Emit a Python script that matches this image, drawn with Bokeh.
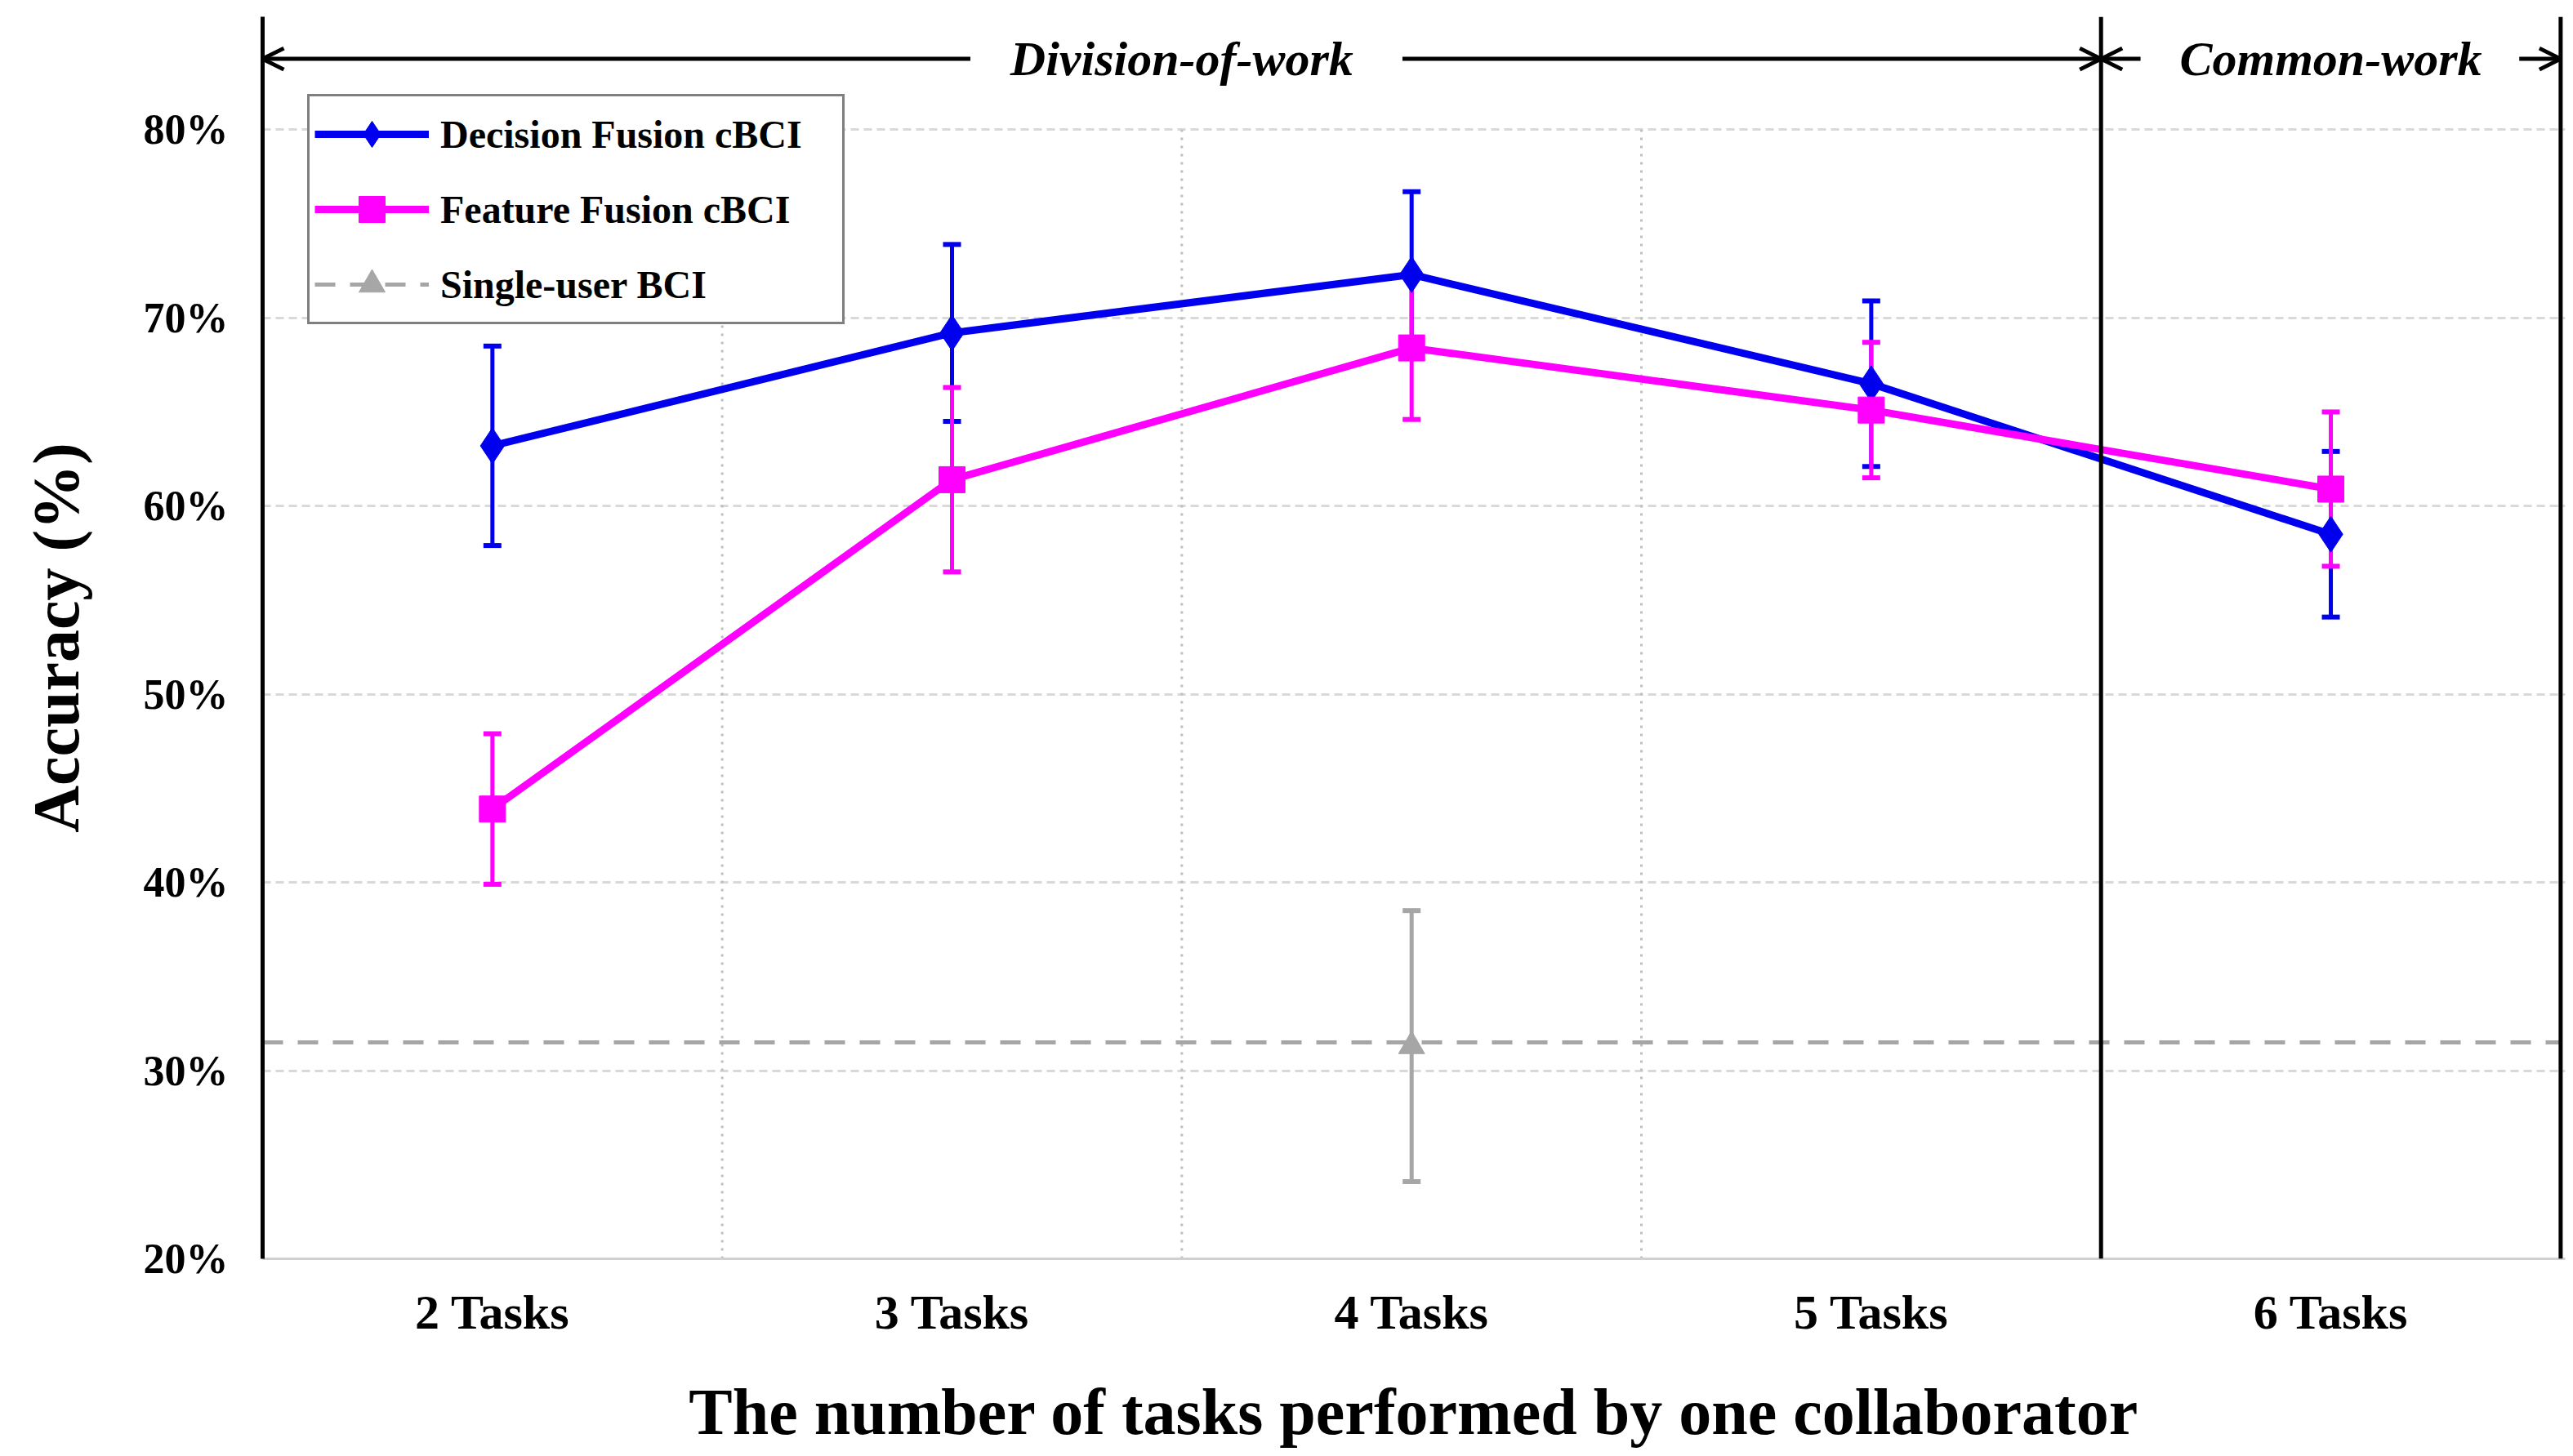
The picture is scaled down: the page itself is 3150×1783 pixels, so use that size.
from bokeh.plotting import figure
from bokeh.models import (ColumnDataSource, Whisker, TeeHead, Span, Arrow, OpenHead,
                          Label, FixedTicker, PrintfTickFormatter)
from bokeh.embed import file_html
from bokeh.resources import INLINE

# ---------------- data ----------------
tasks = [2, 3, 4, 5, 6]
task_labels = ["2 Tasks", "3 Tasks", "4 Tasks", "5 Tasks", "6 Tasks"]

decision_mean = [63.2, 69.2, 72.3, 66.5, 58.5]
decision_err = [5.3, 4.7, 4.4, 4.4, 4.4]

feature_mean = [43.9, 61.4, 68.4, 65.1, 60.9]
feature_err = [4.0, 4.9, 3.8, 3.6, 4.1]

single_task = [4]
single_mean = [31.3]
single_err = [7.2]
single_level = 31.5

y_ticks = [20, 30, 40, 50, 60, 70, 80]
x_lo, x_hi = 1.5, 6.5
split_x = 5.5
division_mid = 3.5
common_mid = 6.0

# ---------------- styles ----------------
BLUE = "#0000EE"
MAGENTA = "#FF00FF"
GRAY = "#A6A6A6"
FONT = "Liberation Serif"

FIG_W = 3142
FIG_H = 1775
FRAME_LEFT = 321
FRAME_TOP = 20
FRAME_BOTTOM = 1543  # from top of figure

p = figure(width=FIG_W, height=FIG_H, x_range=(x_lo, x_hi + 0.01), y_range=(20, 86),
           output_backend="svg", toolbar_location=None,
           min_border_left=FRAME_LEFT, min_border_right=2, min_border_top=FRAME_TOP,
           min_border_bottom=FIG_H - FRAME_BOTTOM,
           background_fill_color="white", border_fill_color="white")
p.outline_line_color = None

# axes
p.xaxis.ticker = FixedTicker(ticks=tasks)
p.xaxis.major_label_overrides = {t: l for t, l in zip(tasks, task_labels)}
p.xaxis.major_label_text_font = FONT
p.xaxis.major_label_text_font_style = "bold"
p.xaxis.major_label_text_font_size = "60px"
p.xaxis.major_label_text_color = "black"
p.xaxis.major_label_standoff = 26
p.xaxis.axis_line_color = "#D0D0D0"
p.xaxis.axis_line_width = 3
p.xaxis.major_tick_line_color = None
p.xaxis.minor_tick_line_color = None
p.xaxis.axis_label = "The number of tasks performed by one collaborator"
p.xaxis.axis_label_text_font = FONT
p.xaxis.axis_label_text_font_style = "bold"
p.xaxis.axis_label_text_font_size = "80px"
p.xaxis.axis_label_text_color = "black"
p.xaxis.axis_label_standoff = 42

p.yaxis.ticker = FixedTicker(ticks=y_ticks)
p.yaxis.formatter = PrintfTickFormatter(format="%d%%")
p.yaxis.major_label_text_font = FONT
p.yaxis.major_label_text_font_style = "bold"
p.yaxis.major_label_text_font_size = "52px"
p.yaxis.major_label_text_color = "black"
p.yaxis.major_label_standoff = 36
p.yaxis.axis_line_color = "black"
p.yaxis.axis_line_width = 5
p.yaxis.major_tick_line_color = None
p.yaxis.minor_tick_line_color = None
p.yaxis.axis_label = "Accuracy (%)"
p.yaxis.axis_label_text_font = FONT
p.yaxis.axis_label_text_font_style = "bold"
p.yaxis.axis_label_text_font_size = "80px"
p.yaxis.axis_label_text_color = "black"
p.yaxis.axis_label_standoff = 60

# grids
p.xgrid.visible = False
p.ygrid.ticker = FixedTicker(ticks=y_ticks[1:])
p.ygrid.grid_line_color = "#D9D9D9"
p.ygrid.grid_line_width = 3
p.ygrid.grid_line_dash = "10 6"

grid_x = [t + 0.5 for t in tasks[:3]]
p.segment(x0=grid_x, y0=[min(y_ticks)] * len(grid_x), x1=grid_x, y1=[max(y_ticks)] * len(grid_x),
          line_color="#BFBFBF", line_width=3, line_dash="3 7")

# vertical black separators
p.add_layout(Span(location=split_x, dimension="height", line_color="black", line_width=5))
p.add_layout(Span(location=x_hi, dimension="height", line_color="black", line_width=5))

# ---------------- series ----------------
def add_err(xs, means, errs, color, lw=5):
    src = ColumnDataSource(dict(x=xs, upper=[m + e for m, e in zip(means, errs)],
                                lower=[m - e for m, e in zip(means, errs)]))
    w = Whisker(base="x", upper="upper", lower="lower", source=src,
                line_color=color, line_width=lw,
                upper_head=TeeHead(size=22, line_color=color, line_width=6),
                lower_head=TeeHead(size=22, line_color=color, line_width=6))
    p.add_layout(w)

# single-user
p.line([x_lo, x_hi], [single_level, single_level], line_color=GRAY, line_width=5,
       line_dash="25 18", legend_label="Single-user BCI")
add_err(single_task, single_mean, single_err, GRAY)
p.scatter(single_task, single_mean, marker="triangle", size=32, color=GRAY,
          legend_label="Single-user BCI")

# decision fusion
add_err(tasks, decision_mean, decision_err, BLUE)
p.line(tasks, decision_mean, line_color=BLUE, line_width=9, legend_label="Decision Fusion cBCI")
p.scatter(tasks, decision_mean, marker="diamond", size=44, color=BLUE,
          legend_label="Decision Fusion cBCI")

# feature fusion
add_err(tasks, feature_mean, feature_err, MAGENTA)
p.line(tasks, feature_mean, line_color=MAGENTA, line_width=9, legend_label="Feature Fusion cBCI")
p.scatter(tasks, feature_mean, marker="square", size=32, color=MAGENTA,
          legend_label="Feature Fusion cBCI")

# legend
leg = p.legend[0]
order = ["Decision Fusion cBCI", "Feature Fusion cBCI", "Single-user BCI"]
items = {it.label.value: it for it in leg.items}
leg.items = [items[k] for k in order]
leg.location = (55, 1144)
leg.border_line_color = "black"
leg.border_line_width = 3
leg.background_fill_color = "white"
leg.background_fill_alpha = 1.0
leg.label_text_font = FONT
leg.label_text_font_style = "bold"
leg.label_text_font_size = "48px"
leg.label_text_color = "black"
leg.glyph_width = 140
leg.glyph_height = 80
leg.label_height = 80
leg.label_width = 486
leg.spacing = 12
leg.padding = 6
leg.margin = 0
leg.label_standoff = 14

# ---------------- top annotations ----------------
ann_y = 83.76
for xs, xe in [(3.04, x_lo), (3.98, split_x), (5.586, split_x), (6.41, x_hi)]:
    p.add_layout(Arrow(x_start=xs, y_start=ann_y, x_end=xe, y_end=ann_y,
                       line_color="black", line_width=5,
                       end=OpenHead(size=26, line_color="black", line_width=5)))

for txt, xm in [("Division-of-work", division_mid), ("Common-work", common_mid)]:
    p.add_layout(Label(x=xm, y=ann_y, text=txt, text_font=FONT, text_font_style="bold italic",
                       text_font_size="60px", text_align="center", text_baseline="middle",
                       text_color="black"))

open("out.html", "w").write(file_html(p, INLINE))
